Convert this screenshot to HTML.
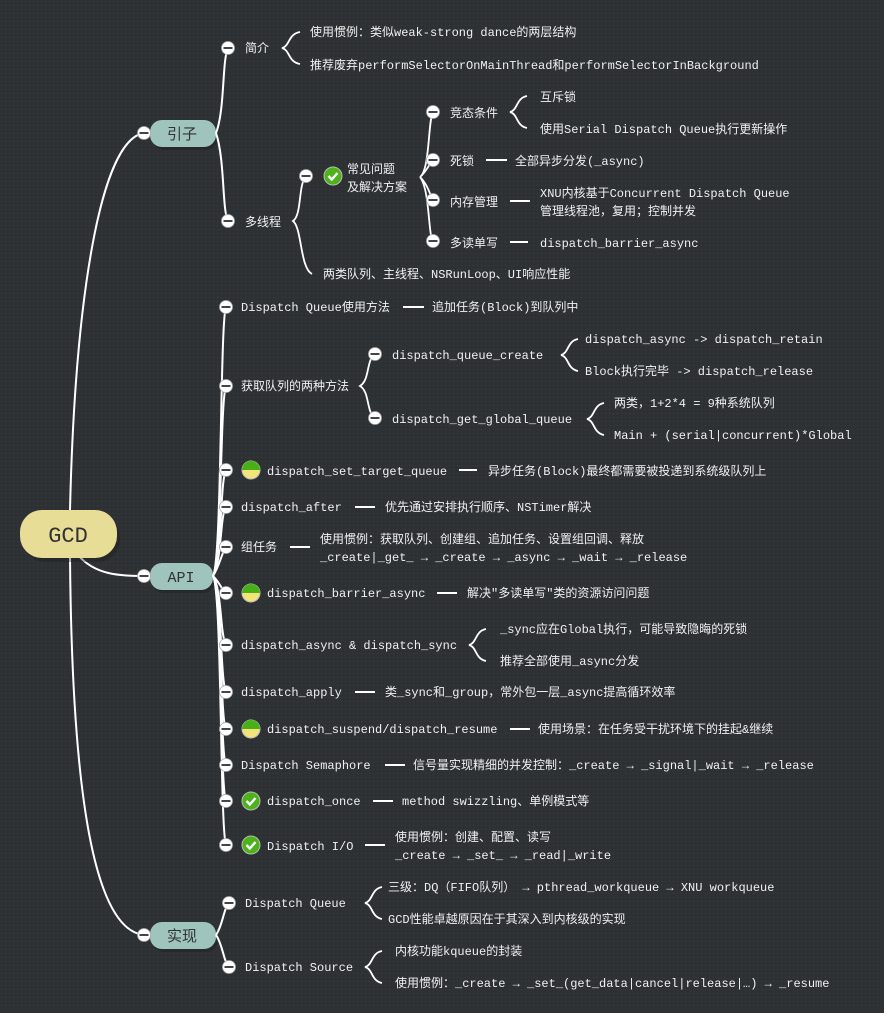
<!DOCTYPE html>
<html><head><meta charset="utf-8"><style>
html,body{margin:0;padding:0;background:#2e3134;}
svg{display:block}
text{font-family:"Liberation Mono","Noto Sans CJK SC",monospace;font-size:12px;fill:#f0f0f0;}
.ln{stroke:#fff;stroke-width:2;fill:none;}
.br{stroke:#fff;stroke-width:1.8;fill:none;}
</style></head><body>
<svg width="884" height="1013" viewBox="0 0 884 1013" xmlns="http://www.w3.org/2000/svg">
<defs>
<pattern id="dots" width="4" height="4" patternUnits="userSpaceOnUse"><rect width="4" height="4" fill="#2e3134"/><rect x="1" y="1" width="1" height="1" fill="#3a3d40"/></pattern>
<g id="m"><circle r="6.5" fill="#fff" stroke="#aaa" stroke-width="0.8"/><rect x="-4.5" y="-1" width="9" height="2" fill="#444"/></g>
<g id="chk"><circle r="9" fill="#4cb31a" stroke="#bbb" stroke-width="1"/><path d="M-4.5 0 L-1.2 3.5 L4.5 -3" stroke="#fff" stroke-width="2.4" fill="none"/></g>
<g id="half"><circle r="9" fill="#f2e47a" stroke="#bbb" stroke-width="1"/><path d="M-9 0 A9 9 0 0 1 9 0 Z" fill="#47b016"/></g>
</defs>
<rect width="884" height="1013" fill="url(#dots)"/>

<!-- main trunk -->
<path class="ln" d="M144 133 C100 140 75 300 70 510 M70 557 C72 800 95 930 144 935"/>
<path class="ln" d="M78 555 C95 575 120 576 144 576"/>

<!-- GCD -->
<rect x="20" y="510" width="97" height="48" rx="22" fill="#1a1a1a" opacity="0.35" transform="translate(3,4)"/>
<rect x="20" y="510" width="97" height="48" rx="22" fill="#e8dd97"/>
<text x="68" y="542" text-anchor="middle" style="font-size:22px;fill:#333">GCD</text>

<!-- 引子 -->
<rect x="150" y="120" width="66" height="27" rx="12" fill="#1a1a1a" opacity="0.35" transform="translate(2,3)"/>
<rect x="150" y="120" width="66" height="27" rx="12" fill="#9fc3bd"/>
<text x="182" y="139" text-anchor="middle" style="font-size:15px;fill:#333">引子</text>
<use href="#m" x="144" y="133"/>
<path class="ln" d="M216 133 C225 110 222 60 228 48 M216 133 C225 160 222 210 228 221"/>
<use href="#m" x="228" y="48"/><use href="#m" x="228" y="221"/>
<text x="245" y="52">简介</text>
<path class="br" d="M300 32 C288 34 290 46 282 48 C290 50 288 62 300 64"/>
<text x="310" y="36">使用惯例：类似weak-strong dance的两层结构</text>
<text x="310" y="69">推荐废弃performSelectorOnMainThread和performSelectorInBackground</text>
<text x="245" y="226">多线程</text>
<path class="br" d="M306 176 C298 185 302 215 293 221 C302 228 300 268 312 274"/>
<use href="#m" x="306" y="176"/>
<use href="#chk" x="333" y="176"/>
<text x="347" y="173">常见问题</text>
<text x="347" y="191">及解决方案</text>
<text x="323" y="278">两类队列、主线程、NSRunLoop、UI响应性能</text>
<path class="br" d="M420 177 C430 170 428 120 433 112 M420 177 C428 170 430 162 433 160 M420 177 C428 185 430 195 433 200 M420 177 C430 190 428 235 433 241"/>
<use href="#m" x="433" y="112"/><use href="#m" x="433" y="160"/><use href="#m" x="433" y="200"/><use href="#m" x="433" y="241"/>
<text x="450" y="117">竞态条件</text>
<path class="br" d="M527 96 C516 98 518 110 510 112 C518 114 516 126 527 128"/>
<text x="540" y="101">互斥锁</text>
<text x="540" y="133">使用Serial Dispatch Queue执行更新操作</text>
<text x="450" y="165">死锁</text>
<path class="ln" d="M486 160 H507"/>
<text x="515" y="165">全部异步分发(_async)</text>
<text x="450" y="206">内存管理</text>
<path class="ln" d="M510 201 H530"/>
<text x="540" y="197">XNU内核基于Concurrent Dispatch Queue</text>
<text x="540" y="215">管理线程池，复用；控制并发</text>
<text x="450" y="247">多读单写</text>
<path class="ln" d="M510 242 H528"/>
<text x="540" y="247">dispatch_barrier_async</text>

<!-- API -->
<rect x="150" y="563" width="63" height="27" rx="12" fill="#1a1a1a" opacity="0.35" transform="translate(2,3)"/>
<rect x="150" y="563" width="63" height="27" rx="12" fill="#9fc3bd"/>
<text x="181" y="582" text-anchor="middle" style="font-size:15px;fill:#333">API</text>
<use href="#m" x="144" y="576"/>
<path class="ln" d="M213 576 C222 560 220 320 226 307"/>
<path class="ln" d="M213 576 C222 560 220 400 226 386"/>
<path class="ln" d="M213 576 C222 560 220 480 226 470"/>
<path class="ln" d="M213 576 C222 560 220 515 226 507"/>
<path class="ln" d="M213 576 C220 565 222 552 226 547"/>
<path class="ln" d="M213 576 C220 583 222 590 226 593"/>
<path class="ln" d="M213 576 C222 590 220 635 226 645"/>
<path class="ln" d="M213 576 C222 590 220 680 226 692"/>
<path class="ln" d="M213 576 C222 590 220 720 226 729"/>
<path class="ln" d="M213 576 C222 590 220 755 226 765"/>
<path class="ln" d="M213 576 C222 590 220 790 226 801"/>
<path class="ln" d="M213 576 C222 590 220 830 226 845"/>
<use href="#m" x="226" y="307"/><use href="#m" x="226" y="386"/><use href="#m" x="226" y="470"/><use href="#m" x="226" y="507"/><use href="#m" x="226" y="547"/><use href="#m" x="226" y="593"/><use href="#m" x="226" y="645"/><use href="#m" x="226" y="692"/><use href="#m" x="226" y="729"/><use href="#m" x="226" y="765"/><use href="#m" x="226" y="801"/><use href="#m" x="226" y="845"/>

<text x="241" y="311">Dispatch Queue使用方法</text>
<path class="ln" d="M403 307 H424"/>
<text x="432" y="311">追加任务(Block)到队列中</text>

<text x="241" y="390">获取队列的两种方法</text>
<path class="br" d="M375 354 C366 360 370 380 360 386 C370 392 366 412 375 418"/>
<use href="#m" x="375" y="354"/><use href="#m" x="375" y="418"/>
<text x="392" y="359">dispatch_queue_create</text>
<path class="br" d="M578 339 C567 341 569 353 561 355 C569 357 567 369 578 371"/>
<text x="585" y="343">dispatch_async -&gt; dispatch_retain</text>
<text x="585" y="375">Block执行完毕 -&gt; dispatch_release</text>
<text x="392" y="423">dispatch_get_global_queue</text>
<path class="br" d="M604 403 C593 405 595 417 587 419 C595 421 593 433 604 435"/>
<text x="614" y="407">两类，1+2*4 = 9种系统队列</text>
<text x="614" y="439">Main + (serial|concurrent)*Global</text>

<use href="#half" x="251" y="470"/>
<text x="267" y="475">dispatch_set_target_queue</text>
<path class="ln" d="M459 470 H477"/>
<text x="488" y="475">异步任务(Block)最终都需要被投递到系统级队列上</text>

<text x="241" y="511">dispatch_after</text>
<path class="ln" d="M355 507 H375"/>
<text x="385" y="511">优先通过安排执行顺序、NSTimer解决</text>

<text x="241" y="551">组任务</text>
<path class="ln" d="M290 547 H310"/>
<text x="320" y="543">使用惯例：获取队列、创建组、追加任务、设置组回调、释放</text>
<text x="320" y="561">_create|_get_ → _create → _async → _wait → _release</text>

<use href="#half" x="251" y="593"/>
<text x="267" y="597">dispatch_barrier_async</text>
<path class="ln" d="M437 593 H457"/>
<text x="467" y="597">解决"多读单写"类的资源访问问题</text>

<text x="241" y="649">dispatch_async &amp; dispatch_sync</text>
<path class="br" d="M486 629 C475 631 477 643 469 645 C477 647 475 659 486 661"/>
<text x="500" y="633">_sync应在Global执行，可能导致隐晦的死锁</text>
<text x="500" y="665">推荐全部使用_async分发</text>

<text x="241" y="696">dispatch_apply</text>
<path class="ln" d="M355 692 H375"/>
<text x="385" y="696">类_sync和_group，常外包一层_async提高循环效率</text>

<use href="#half" x="251" y="729"/>
<text x="267" y="733">dispatch_suspend/dispatch_resume</text>
<path class="ln" d="M510 729 H530"/>
<text x="538" y="733">使用场景：在任务受干扰环境下的挂起&amp;继续</text>

<text x="241" y="769">Dispatch Semaphore</text>
<path class="ln" d="M385 765 H405"/>
<text x="413" y="769">信号量实现精细的并发控制：_create → _signal|_wait → _release</text>

<use href="#chk" x="251" y="801"/>
<text x="267" y="805">dispatch_once</text>
<path class="ln" d="M373 801 H393"/>
<text x="402" y="805">method swizzling、单例模式等</text>

<use href="#chk" x="251" y="845"/>
<text x="267" y="850">Dispatch I/O</text>
<path class="ln" d="M365 845 H385"/>
<text x="395" y="841">使用惯例：创建、配置、读写</text>
<text x="395" y="859">_create → _set_ → _read|_write</text>

<!-- 实现 -->
<rect x="150" y="922" width="66" height="27" rx="12" fill="#1a1a1a" opacity="0.35" transform="translate(2,3)"/>
<rect x="150" y="922" width="66" height="27" rx="12" fill="#9fc3bd"/>
<text x="182" y="941" text-anchor="middle" style="font-size:15px;fill:#333">实现</text>
<use href="#m" x="144" y="935"/>
<path class="ln" d="M216 935 C223 925 223 910 229 903 M216 935 C223 945 223 960 229 967"/>
<use href="#m" x="229" y="903"/><use href="#m" x="229" y="967"/>
<text x="245" y="907">Dispatch Queue</text>
<path class="br" d="M382 887 C371 889 373 901 365 903 C373 905 371 917 382 919"/>
<text x="388" y="891">三级：DQ（FIFO队列） → pthread_workqueue → XNU workqueue</text>
<text x="388" y="923">GCD性能卓越原因在于其深入到内核级的实现</text>
<text x="245" y="971">Dispatch Source</text>
<path class="br" d="M382 951 C371 953 373 965 365 967 C373 969 371 981 382 983"/>
<text x="395" y="955">内核功能kqueue的封装</text>
<text x="395" y="987">使用惯例：_create → _set_(get_data|cancel|release|…) → _resume</text>
</svg>
</body></html>
